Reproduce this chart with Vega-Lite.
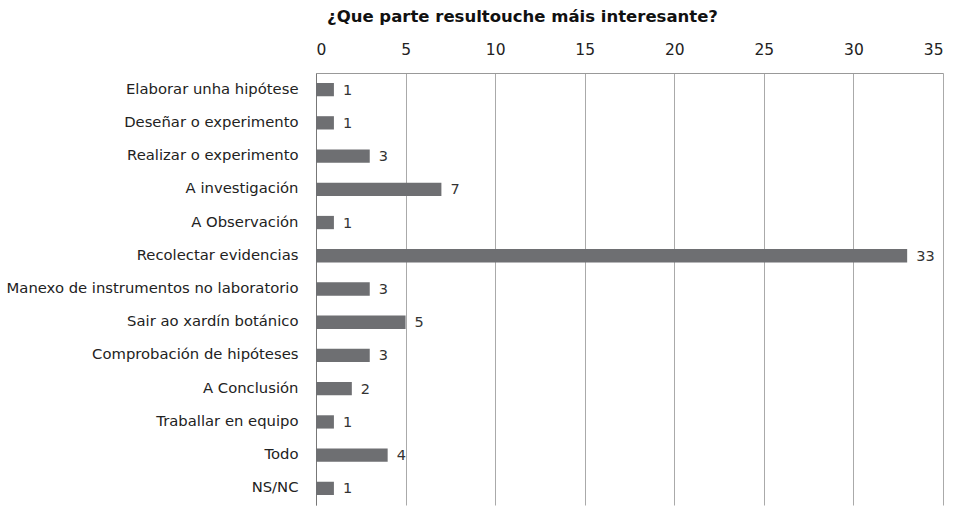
{
  "$schema": "https://vega.github.io/schema/vega-lite/v6.json",
  "autosize": {"type": "none"},
  "padding": {"left": 316, "top": 73, "right": 17, "bottom": 1},
  "width": 627,
  "height": 432,
  "background": "white",
  "title": {
    "text": "¿Que parte resultouche máis interesante?",
    "font": "DejaVu Sans",
    "fontSize": 16.5,
    "fontWeight": "bold",
    "color": "#111111",
    "anchor": "middle",
    "dx": -107,
    "offset": 17
  },
  "data": {
    "values": [
      {"parte": "Elaborar unha hipótese", "n": 1},
      {"parte": "Deseñar o experimento", "n": 1},
      {"parte": "Realizar o experimento", "n": 3},
      {"parte": "A investigación", "n": 7},
      {"parte": "A Observación", "n": 1},
      {"parte": "Recolectar evidencias", "n": 33},
      {"parte": "Manexo de instrumentos no laboratorio", "n": 3},
      {"parte": "Sair ao xardín botánico", "n": 5},
      {"parte": "Comprobación de hipóteses", "n": 3},
      {"parte": "A Conclusión", "n": 2},
      {"parte": "Traballar en equipo", "n": 1},
      {"parte": "Todo", "n": 4},
      {"parte": "NS/NC", "n": 1}
    ]
  },
  "config": {
    "view": {"stroke": null},
    "font": "DejaVu Sans"
  },
  "encoding": {
    "y": {
      "field": "parte",
      "type": "nominal",
      "sort": null,
      "scale": {"paddingInner": 0.6, "paddingOuter": 0.3},
      "axis": {
        "title": null,
        "ticks": false,
        "domain": true,
        "domainColor": "#777777",
        "labelFont": "DejaVu Sans",
        "labelFontSize": 14.8,
        "labelColor": "#222222",
        "labelPadding": 18,
        "labelLimit": 400
      }
    },
    "x": {
      "field": "n",
      "type": "quantitative",
      "scale": {"domain": [0, 35], "nice": false},
      "axis": {
        "orient": "top",
        "title": null,
        "values": [0, 5, 10, 15, 20, 25, 30, 35],
        "ticks": false,
        "domain": true,
        "domainColor": "#999999",
        "grid": true,
        "gridColor": "#aaaaaa",
        "gridWidth": 1,
        "labelFont": "DejaVu Sans",
        "labelFontSize": 15.5,
        "labelColor": "#222222",
        "labelPadding": 16
      }
    }
  },
  "layer": [
    {"mark": {"type": "bar", "color": "#6e6f72"}},
    {
      "mark": {"type": "text", "align": "left", "dx": 9, "dy": 1, "fontSize": 14.5, "color": "#333333", "font": "DejaVu Sans"},
      "encoding": {"text": {"field": "n", "type": "quantitative"}}
    }
  ]
}
